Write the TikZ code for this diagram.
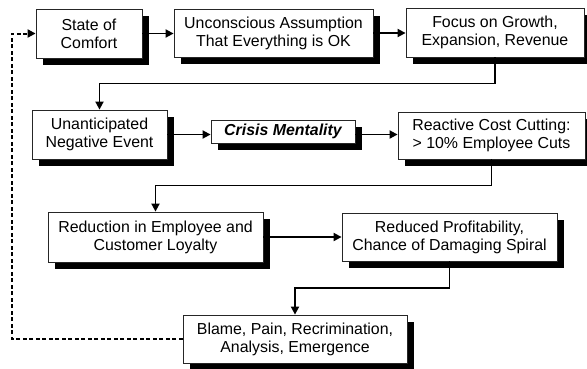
\documentclass[tikz,border=0pt]{standalone}
\usepackage{fontspec}
\setmainfont{Liberation Sans}
\usetikzlibrary{arrows.meta}
\usetikzlibrary{shadows}
\usetikzlibrary{calc}

\begin{document}
\begin{tikzpicture}[x=1pt,y=-1pt,
	box/.style={draw=black!85,line width=0.8pt,fill=white,align=center,inner sep=0pt,
		font=\fontsize{15.9}{18}\selectfont,
		drop shadow={shadow xshift=7pt,shadow yshift=-7pt,fill=black,opacity=1}},
	flow/.style={line width=1.8pt,-{Triangle[length=8pt,width=8pt]}},
	feedback/.style={flow,line width=2pt,dash pattern=on 4pt off 2.5pt}]
	\useasboundingbox (0,0) rectangle (587,368);
	\node[box,minimum width=106pt,minimum height=49pt] (comfort) at (89,33.5) {State of\\Comfort};
	\node[box,minimum width=199pt,minimum height=48pt] (assume) at (273.5,33) {Unconscious Assumption\\That Everything is OK};
	\node[box,minimum width=178pt,minimum height=49pt] (growth) at (495,32.5) {Focus on Growth,\\Expansion, Revenue};
	\node[box,minimum width=135pt,minimum height=49pt] (event) at (99.5,134.5) {Unanticipated\\Negative Event};
	\node[box,minimum width=144pt,minimum height=23pt,font=\fontsize{15.9}{18}\selectfont\bfseries\itshape] (crisis) at (283,131.5) {Crisis Mentality};
	\node[box,minimum width=187pt,minimum height=47pt] (cutting) at (491.5,135.5) {Reactive Cost Cutting:\\> 10\% Employee Cuts};
	\node[box,minimum width=215pt,minimum height=50pt] (loyalty) at (155.5,237) {Reduction in Employee and\\Customer Loyalty};
	\node[box,minimum width=215pt,minimum height=48pt] (profit) at (449.5,237) {Reduced Profitability,\\Chance of Damaging Spiral};
	\node[box,minimum width=224pt,minimum height=48pt] (blame) at (295,339) {Blame, Pain, Recrimination,\\Analysis, Emergence};
	\coordinate (back) at (12,0);
	\draw[flow] (comfort.east) -- (comfort.east -| assume.west);
	\draw[flow] (assume.east) -- (assume.east -| growth.west);
	\draw[flow] (growth.south) |- ($(growth.south)!.5!(event.north)$) -| (event.north);
	\draw[flow] (event.east) -- (event.east -| crisis.west);
	\draw[flow] (event.east -| crisis.east) -- (event.east -| cutting.west);
	\draw[flow] (cutting.south) |- ($(cutting.south)!.5!(loyalty.north)$) -| (loyalty.north);
	\draw[flow] (loyalty.east) -- (profit.west);
	\draw[flow] (profit.south) |- ($(profit.south)!.5!(blame.north)$) -| (blame.north);
	\draw[feedback] (blame.west) -- (blame.west -| back) |- (comfort.west);
\end{tikzpicture}
\end{document}
